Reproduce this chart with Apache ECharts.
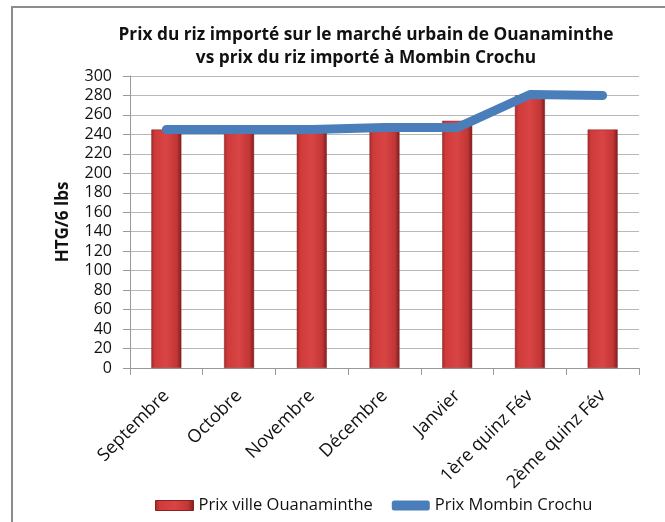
<!DOCTYPE html>
<html>
<head>
<meta charset="utf-8">
<script src="https://cdn.jsdelivr.net/npm/echarts@6/dist/echarts.min.js"></script>
<style>
  html, body { margin: 0; padding: 0; background: #fff; }
  #chart { width: 665px; height: 522px; }
</style>
</head>
<body>
<div id="chart"></div>
<script>
// catégories (axe x)
var categories = ["Septembre", "Octobre", "Novembre", "Décembre", "Janvier", "1ère quinz Fév", "2ème quinz Fév"];
// prix ville Ouanaminthe (barres)
var prixOuanaminthe = [245, 243, 243, 244, 254, 280, 245];
// prix Mombin Crochu (ligne)
var prixMombin = [245, 245, 245, 247, 247, 281, 280];
// graduations de l'axe y
var yTicks = [0, 20, 40, 60, 80, 100, 120, 140, 160, 180, 200, 220, 240, 260, 280, 300];

var chart = echarts.init(document.getElementById("chart"));

var barColor = new echarts.graphic.LinearGradient(0, 0, 1, 0, [
  { offset: 0, color: "#a52a2a" },
  { offset: 0.12, color: "#cf3b3b" },
  { offset: 0.5, color: "#d94444" },
  { offset: 0.85, color: "#c23636" },
  { offset: 1, color: "#7e1c1c" }
]);

chart.setOption({
  animation: false,
  textStyle: { fontFamily: "Open Sans" },
  graphic: [{
    type: "rect",
    shape: { x: 12, y: 7, width: 700, height: 600 },
    style: { fill: "none", stroke: "#8c8c8c", lineWidth: 2 },
    silent: true
  }],
  title: {
    text: "Prix du riz importé sur le marché urbain de Ouanaminthe\nvs prix du riz importé à Mombin Crochu",
    left: 361,
    textAlign: "center",
    top: 19,
    textStyle: { fontSize: 17.3, fontWeight: "bold", color: "#111", lineHeight: 23, fontFamily: "Open Sans" }
  },
  grid: { left: 130, right: 26, top: 76, bottom: 154 },
  legend: {
    top: 492,
    left: 150,
    itemWidth: 38,
    itemHeight: 10,
    itemGap: 19,
    textStyle: { fontSize: 16.5, color: "#111" },
    data: [
      { name: "Prix ville Ouanaminthe", icon: "rect", itemStyle: { color: barColor, borderColor: "#8b2020", borderWidth: 1 } },
      { name: "Prix Mombin Crochu", icon: "roundRect", itemStyle: { color: "#4a7ebb" } }
    ]
  },
  xAxis: {
    type: "category",
    data: categories,
    axisLine: { lineStyle: { color: "#999" } },
    axisTick: { show: true, length: 7, lineStyle: { color: "#999" } },
    axisLabel: { rotate: 45, fontSize: 18, color: "#111", margin: 25, interval: 0 }
  },
  yAxis: {
    type: "value",
    min: 0,
    max: 300,
    interval: 20,
    name: "HTG/6 lbs",
    nameLocation: "middle",
    nameGap: 58,
    nameTextStyle: { fontSize: 17, fontWeight: "bold", color: "#111" },
    axisLine: { show: true, lineStyle: { color: "#999" } },
    axisTick: { show: true, length: 7, lineStyle: { color: "#999" } },
    axisLabel: {
      fontSize: 16, color: "#111", margin: 18,
      formatter: function (v) { return yTicks.indexOf(v) >= 0 ? String(v) : ""; }
    },
    splitLine: { lineStyle: { color: "#b8b8b8" } }
  },
  series: [
    {
      name: "Prix ville Ouanaminthe",
      type: "bar",
      data: prixOuanaminthe,
      barWidth: 30,
      itemStyle: { color: barColor, borderColor: "#8b2020", borderWidth: 0.5 }
    },
    {
      name: "Prix Mombin Crochu",
      type: "line",
      data: prixMombin,
      showSymbol: false,
      symbol: "none",
      lineStyle: { color: "#4a7ebb", width: 9, cap: "round", join: "round" },
      itemStyle: { color: "#4a7ebb" }
    }
  ]
});
</script>
</body>
</html>
